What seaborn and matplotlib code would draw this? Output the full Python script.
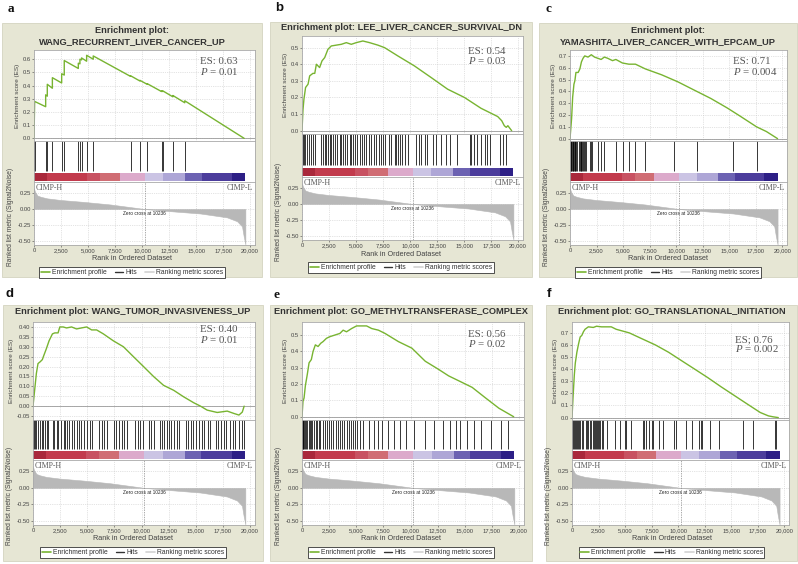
import matplotlib
matplotlib.use("Agg")
import matplotlib.pyplot as plt
import seaborn as sns
from matplotlib.lines import Line2D

sns.set_theme(style="white")
plt.rcParams['font.family'] = ['Liberation Sans', 'DejaVu Sans']
plt.rcParams['axes.unicode_minus'] = False
plt.rcParams['mathtext.fontset'] = 'custom'
plt.rcParams['mathtext.it'] = 'Liberation Serif:italic'
plt.rcParams['mathtext.rm'] = 'Liberation Serif'

# ---------------- data ----------------
letters = ['a', 'b', 'c', 'd', 'e', 'f']
titles = ['Enrichment plot:\nWANG_RECURRENT_LIVER_CANCER_UP',
          'Enrichment plot: LEE_LIVER_CANCER_SURVIVAL_DN',
          'Enrichment plot:\nYAMASHITA_LIVER_CANCER_WITH_EPCAM_UP',
          'Enrichment plot: WANG_TUMOR_INVASIVENESS_UP',
          'Enrichment plot: GO_METHYLTRANSFERASE_COMPLEX',
          'Enrichment plot: GO_TRANSLATIONAL_INITIATION']
es_labels = ['ES: 0.63', 'ES: 0.54', 'ES: 0.71', 'ES: 0.40', 'ES: 0.56', 'ES; 0.76']
p_labels = ['0.01', '0.03', '0.004', '0.01', '0.02', '0.002']

es_a_rank = [0, 30, 60, 1080, 1080, 1230, 1230, 1700, 1700, 2560, 2560, 2800, 2800, 4100, 4100,
             4250, 4250, 4400, 4400, 4870, 4870, 5480, 5480, 8930, 8930, 9800, 9800, 10470, 10470,
             11800, 11800, 11920, 11920, 12850, 12850, 13950, 13950, 19450]
es_a_val = [0, 0.14, 0.28, 0.24, 0.33, 0.32, 0.41, 0.38, 0.46, 0.42, 0.49, 0.48, 0.59, 0.53, 0.57,
            0.565, 0.60, 0.595, 0.61, 0.585, 0.63, 0.60, 0.625, 0.47, 0.475, 0.435, 0.44, 0.41, 0.415,
            0.355, 0.36, 0.355, 0.36, 0.315, 0.325, 0.27, 0.285, 0.0]
es_b_rank = [0, 90, 180, 330, 560, 710, 1010, 1180, 1330, 1630, 1850, 2100, 2400, 2710, 3170, 3640,
             4100, 4560, 5020, 5630, 6250, 7020, 7640, 8870, 10400, 11950, 13470, 15030, 16560, 18110,
             18480, 18720, 18900, 19050, 19400]
es_b_val = [0, 0.125, 0.19, 0.26, 0.28, 0.33, 0.345, 0.345, 0.40, 0.38, 0.42, 0.44, 0.49, 0.51, 0.515,
            0.52, 0.53, 0.52, 0.53, 0.54, 0.53, 0.515, 0.50, 0.45, 0.39, 0.32, 0.25, 0.20, 0.135, 0.085,
            0.06, 0.03, 0.02, 0.03, 0.0]
es_c_rank = [0, 150, 250, 370, 460, 560, 770, 930, 1080, 1230, 1390, 1700, 2010, 2310, 2620, 2930,
             3240, 3550, 4010, 4320, 4940, 5550, 6170, 7100, 8640, 10180, 11720, 13270, 14810, 16040,
             17580, 18510, 19560]
es_c_val = [0, 0.17, 0.35, 0.46, 0.49, 0.56, 0.56, 0.59, 0.65, 0.68, 0.70, 0.69, 0.71, 0.69, 0.68,
            0.67, 0.69, 0.68, 0.66, 0.67, 0.64, 0.63, 0.63, 0.59, 0.54, 0.48, 0.41, 0.34, 0.26, 0.19,
            0.10, 0.06, 0.0]
es_d_rank = [0, 150, 310, 460, 680, 860, 990, 1230, 1480, 1790, 2010, 2310, 2470, 2780, 3090, 3550,
             4010, 4470, 4940, 5400, 5860, 6480, 7400, 8330, 9250, 10180, 11100, 12030, 12960, 13880,
             14810, 15430, 16040, 16970, 17890, 18510, 18970, 19280, 19450]
es_d_val = [0, 0.08, 0.165, 0.215, 0.225, 0.235, 0.255, 0.29, 0.33, 0.365, 0.37, 0.37, 0.40, 0.40,
            0.395, 0.40, 0.39, 0.395, 0.40, 0.385, 0.385, 0.365, 0.33, 0.30, 0.25, 0.20, 0.15, 0.105,
            0.08, 0.047, 0.017, 0.0, -0.02, -0.032, -0.025, -0.037, -0.045, -0.03, 0.0]
es_e_rank = [0, 90, 190, 310, 490, 650, 860, 1020, 1230, 1480, 1730, 1940, 2250, 2560, 3020, 3490,
             3790, 4100, 4570, 5030, 5490, 5950, 6420, 7040, 7650, 8880, 10120, 11350, 12580, 13510,
             14440, 15670, 16910, 18140, 19500]
es_e_val = [0, 0.094, 0.115, 0.19, 0.26, 0.33, 0.35, 0.40, 0.44, 0.43, 0.45, 0.46, 0.48, 0.49, 0.50,
            0.51, 0.53, 0.52, 0.54, 0.556, 0.556, 0.556, 0.54, 0.53, 0.51, 0.46, 0.42, 0.34, 0.29, 0.25,
            0.22, 0.18, 0.115, 0.052, 0.0]
es_f_rank = [0, 90, 220, 310, 460, 620, 770, 930, 1080, 1230, 1540, 2010, 2310, 2780, 3390, 3700,
             4160, 5400, 6630, 7870, 9100, 10330, 11570, 12800, 14040, 15270, 16500, 17740, 18510,
             18970, 19440]
es_f_val = [0, 0.156, 0.354, 0.45, 0.54, 0.61, 0.666, 0.68, 0.71, 0.73, 0.75, 0.745, 0.755, 0.75,
            0.75, 0.75, 0.73, 0.70, 0.65, 0.60, 0.54, 0.47, 0.40, 0.33, 0.255, 0.184, 0.113, 0.042,
            0.014, 0.006, 0.0]

hits_a = [0, 60, 1080, 1230, 1700, 2560, 2800, 4100, 4250, 4400, 4870, 5480, 8930, 9800, 10470,
          11800, 11920, 12850, 13950]
hits_b = [60, 150, 310, 460, 650, 860, 1020, 1230, 1790, 1940, 2100, 2250, 2410, 2560, 2710, 2870,
          3020, 3270, 3490, 3640, 3790, 3950, 4200, 4410, 4570, 4720, 4940, 5120, 5340, 5550, 5740,
          5950, 6170, 6420, 6660, 6880, 7100, 7340, 7500, 7710, 8020, 8270, 8580, 8730, 8880, 9040,
          9260, 9500, 9810, 10580, 10800, 11040, 11350, 11600, 12120, 12430, 12900, 13360, 13670,
          14380, 15520, 15670, 15920, 16230, 16600, 16910, 17150, 17370, 18290, 18600, 18910]
hits_c = [0, 60, 120, 180, 250, 310, 370, 430, 500, 560, 700, 850, 930, 1000, 1080, 1150, 1230, 1300,
          1390, 1500, 1850, 2010, 2100, 2620, 2950, 3240, 4320, 5000, 5550, 6170, 7100, 9800, 12000,
          15400, 17600]
hits_d = [30, 120, 220, 310, 490, 650, 800, 960, 1110, 1260, 1420, 1820, 1940, 2190, 2340, 2560, 2810,
          2960, 3120, 3360, 3580, 3790, 4040, 4200, 4410, 4660, 4970, 5210, 5430, 6050, 6360, 6570,
          6820, 7430, 7680, 7900, 8210, 8420, 8670, 9440, 9660, 9900, 10150, 10670, 10890, 11140,
          11690, 11910, 12060, 12310, 12530, 12740, 12990, 13230, 13450, 14070, 14280, 14530, 14780,
          14990, 15300, 15530, 15770, 16080, 16320, 16850, 17060, 17310, 17550, 17770, 18170, 18380,
          18600, 19000, 19220, 19400]
hits_e = [0, 50, 100, 200, 300, 400, 500, 600, 700, 800, 950, 1100, 1250, 1400, 1550, 1700, 1900,
          2100, 2300, 2500, 2700, 2900, 3100, 3300, 3500, 3700, 3900, 4100, 4300, 4500, 4700, 4900,
          5100, 5300, 5600, 6200, 6600, 7000, 7400, 7900, 8500, 9000, 9600, 10300, 11300, 12200,
          13000, 13600, 14200, 14600, 15200, 15800, 16500, 17400, 18300, 19000]
hits_f = [0, 90, 190, 280, 370, 470, 560, 650, 750, 930, 1060, 1300, 1400, 1490, 1710, 1800, 2020,
          2110, 2200, 2300, 2390, 2480, 2580, 2670, 2790, 2950, 3260, 4040, 4500, 4970, 5120, 5590,
          6680, 6830, 6990, 7300, 7510, 7610, 8230, 8540, 9630, 9780, 10710, 11330, 11950, 12110,
          12260, 13040, 13820, 16150, 17080, 19100, 19250]

metric_rank = [0, 90, 310, 620, 1230, 2460, 4620, 7080, 10236, 12320, 15400, 17860, 18790, 19250,
               19400, 19560]
metric_val = [0.32, 0.27, 0.21, 0.19, 0.165, 0.14, 0.11, 0.07, 0.0, -0.03, -0.07, -0.13, -0.19,
              -0.27, -0.42, -0.55]
zero_cross = 10236

band_edges = [0, 1230, 4870, 6100, 7960, 10270, 11970, 13970, 15520, 18290, 19560]
band_colors = ['#a9283b', '#c23b4d', '#c85262', '#d06d74', '#dcaacb', '#cbc4e4', '#aea6d6',
               '#6c62b2', '#4c3d9c', '#2d1f86']

es_ranks = [es_a_rank, es_b_rank, es_c_rank, es_d_rank, es_e_rank, es_f_rank]
es_vals = [es_a_val, es_b_val, es_c_val, es_d_val, es_e_val, es_f_val]
hits_all = [hits_a, hits_b, hits_c, hits_d, hits_e, hits_f]

es_yticks = [[0.0, 0.1, 0.2, 0.3, 0.4, 0.5, 0.6],
             [0.0, 0.1, 0.2, 0.3, 0.4, 0.5],
             [0.0, 0.1, 0.2, 0.3, 0.4, 0.5, 0.6, 0.7],
             [-0.05, 0.0, 0.05, 0.1, 0.15, 0.2, 0.25, 0.3, 0.35, 0.4],
             [0.0, 0.1, 0.2, 0.3, 0.4, 0.5],
             [0.0, 0.1, 0.2, 0.3, 0.4, 0.5, 0.6, 0.7]]
metric_yticks = [0.25, 0.0, -0.25, -0.5]
xticks = [0, 2500, 5000, 7500, 10000, 12500, 15000, 17500, 20000]

# ---------------- layout (pixels on a 798x564 canvas) ----------------
W, H = 798, 564
layout = [
    dict(box=(2, 23, 262, 277), ax=(34, 255), es=(50, 141), hit=182, met=245, ttl=36, let=(8, 9),
         ylim=(-0.02, 0.67), txt=(0.87, 0.76), serif=True),
    dict(box=(270, 22, 532, 277), ax=(302, 523), es=(36, 134), hit=177, met=240, ttl=28, let=(275, 8),
         ylim=(-0.02, 0.57), txt=(0.84, 0.745), serif=False),
    dict(box=(539, 23, 797, 277), ax=(570, 787), es=(50, 141), hit=182, met=245, ttl=36, let=(545, 9),
         ylim=(-0.02, 0.75), txt=(0.87, 0.76), serif=True),
    dict(box=(3, 305, 263, 561), ax=(33, 255), es=(322, 420), hit=460, met=525, ttl=312, let=(6, 294),
         ylim=(-0.07, 0.425), txt=(0.92, 0.82), serif=False),
    dict(box=(270, 305, 532, 561), ax=(302, 524), es=(322, 420), hit=460, met=525, ttl=312, let=(273, 295),
         ylim=(-0.02, 0.58), txt=(0.87, 0.78), serif=True),
    dict(box=(546, 305, 797, 561), ax=(572, 789), es=(322, 420), hit=460, met=525, ttl=312, let=(547, 294),
         ylim=(-0.02, 0.79), txt=(0.82, 0.73), serif=False),
]

GREEN = '#78b431'
PANEL_BG = '#e6e6d4'
SPINE = '#a8a8a8'
XMAX = 20450


def rect(l, t, r, b):
    return [l / W, 1 - b / H, (r - l) / W, (b - t) / H]


def style_axes(ax):
    for s in ax.spines.values():
        s.set_color(SPINE)
        s.set_linewidth(0.6)
    ax.set_facecolor('white')
    ax.tick_params(axis='both', labelsize=4.2, length=1.2, width=0.4, pad=1.0,
                   colors='#444444', bottom=True, left=True)
    ax.set_xlim(0, XMAX)


fig = plt.figure(figsize=(W / 100, H / 100), dpi=100)
fig.patch.set_facecolor('white')

for i in range(6):
    L = layout[i]
    bl, bt, br, bb = L['box']
    x0, x1 = L['ax']
    cx = (bl + br) / 2

    fig.add_artist(plt.Rectangle((bl / W, 1 - bb / H), (br - bl) / W, (bb - bt) / H,
                                 transform=fig.transFigure, facecolor=PANEL_BG,
                                 edgecolor='#d4d4c0', lw=0.6, zorder=-5))
    fig.text(L['let'][0] / W, 1 - L['let'][1] / H, letters[i], fontsize=9.5, fontweight='bold',
             family='Liberation Serif' if L['serif'] else 'Liberation Sans',
             ha='left', va='center', color='#111111')
    fig.text(cx / W, 1 - L['ttl'] / H, titles[i], fontsize=6.7, fontweight='bold', color='#333333',
             ha='center', va='center', linespacing=1.25)

    # enrichment score profile
    ax_es = fig.add_axes(rect(x0, L['es'][0], x1, L['es'][1]))
    style_axes(ax_es)
    sns.lineplot(x=es_ranks[i], y=es_vals[i], ax=ax_es, color=GREEN, lw=1.0,
                 estimator=None, sort=False)
    ax_es.axhline(0, color='#9a9a9a', lw=0.6, zorder=1)
    ax_es.set_ylim(*L['ylim'])
    ax_es.set_xticks(xticks)
    ax_es.set_xticklabels([])
    ax_es.tick_params(axis='x', length=0)
    ax_es.set_yticks(es_yticks[i])
    fmt = '{:.2f}' if i == 3 else '{:.1f}'
    ax_es.set_yticklabels([fmt.format(v) for v in es_yticks[i]])
    ax_es.grid(True, ls=':', color='#c8c8c8', lw=0.5)
    ax_es.set_ylabel('Enrichment score (ES)', fontsize=4.6, color='#444444', labelpad=2)
    ax_es.text(0.75, L['txt'][0], es_labels[i], transform=ax_es.transAxes, fontsize=7.8,
               family='Liberation Serif', color='#555555', va='center', ha='left')
    ax_es.text(0.75, L['txt'][1], r'$\it{P}$ = ' + p_labels[i], transform=ax_es.transAxes,
               fontsize=7.8, family='Liberation Serif', color='#555555', va='center', ha='left')

    # hits and ranked list colour band
    ax_h = fig.add_axes(rect(x0, L['es'][1], x1, L['hit']))
    style_axes(ax_h)
    ax_h.vlines(hits_all[i], 0.27, 1.0, color='black', lw=0.55)
    for k in range(len(band_colors)):
        ax_h.broken_barh([(band_edges[k], band_edges[k + 1] - band_edges[k])], (0.02, 0.2),
                         facecolors=band_colors[k], lw=0)
    ax_h.set_ylim(0, 1)
    ax_h.set_xticks([])
    ax_h.set_yticks([])

    # ranked list metric
    ax_m = fig.add_axes(rect(x0, L['hit'], x1, L['met']))
    style_axes(ax_m)
    ax_m.fill_between(metric_rank, metric_val, 0, color='#b8b8b8', lw=0.4, edgecolor='#b8b8b8')
    ax_m.axvline(zero_cross, color='#8a8a8a', ls='--', lw=0.5, dashes=(2, 1.5))
    ax_m.text(zero_cross, -0.07, 'Zero cross at 10236', fontsize=3.4, ha='center', va='center',
              color='#222222')
    ax_m.text(0.008, 0.97, 'CIMP-H', transform=ax_m.transAxes, fontsize=5.6,
              family='Liberation Serif', color='#555555', ha='left', va='top')
    ax_m.text(0.992, 0.97, 'CIMP-L', transform=ax_m.transAxes, fontsize=5.6,
              family='Liberation Serif', color='#555555', ha='right', va='top')
    ax_m.set_ylim(-0.56, 0.42)
    ax_m.set_yticks(metric_yticks)
    ax_m.set_yticklabels(['0.25', '0.00', '-0.25', '-0.50'])
    ax_m.set_xticks(xticks)
    ax_m.set_xticklabels(['0', '2,500', '5,000', '7,500', '10,000', '12,500', '15,000',
                          '17,500', '20,000'])
    ax_m.grid(True, ls=':', color='#c8c8c8', lw=0.5)
    ax_m.set_ylabel('Ranked list metric (Signal2Noise)', fontsize=4.8, color='#444444', labelpad=2)
    ax_m.yaxis.set_label_coords(-0.09, 0.45)

    fig.text(cx / W, 1 - (L['met'] + 14) / H, 'Rank in Ordered Dataset', fontsize=5.2,
             color='#444444', ha='center', va='center')

    handles = [Line2D([0], [0], color=GREEN, lw=1.2),
               Line2D([0], [0], color='#333333', lw=1.0),
               Line2D([0], [0], color='#d2d2d2', lw=1.2)]
    leg = fig.legend(handles, ['Enrichment profile', 'Hits', 'Ranking metric scores'],
                     loc='center', bbox_to_anchor=(cx / W, 1 - (L['met'] + 27.5) / H), ncol=3,
                     fontsize=4.9, frameon=True, fancybox=False, edgecolor='#333333',
                     framealpha=1, handlelength=1.3, handletextpad=0.3, columnspacing=1.2,
                     borderpad=0.25)
    leg.get_frame().set_linewidth(0.6)
    for t in leg.get_texts():
        t.set_color('#333333')

fig.savefig('out.png', dpi=100)
